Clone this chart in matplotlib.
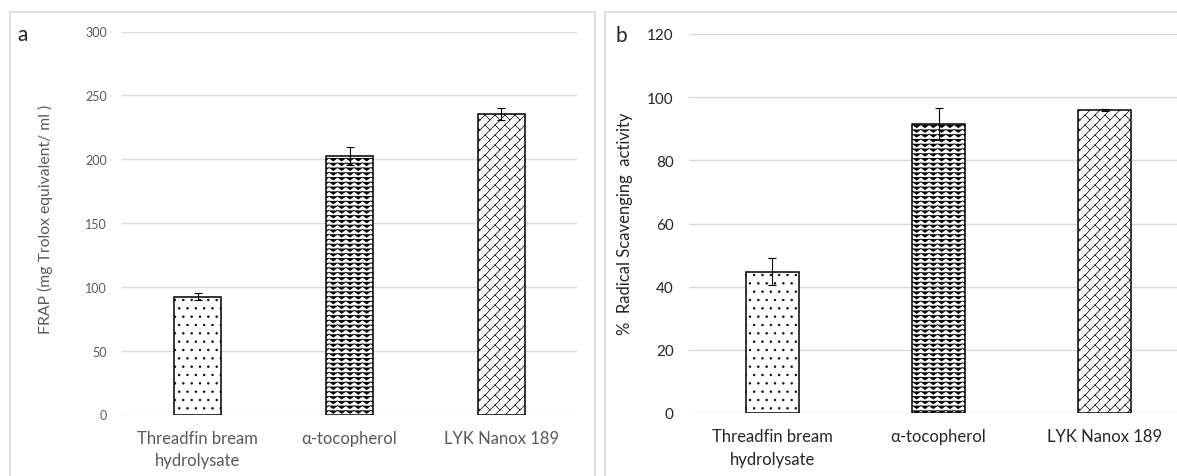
import numpy as np
import matplotlib
matplotlib.use("Agg")
import matplotlib.pyplot as plt
from matplotlib import hatch as mhatch
from matplotlib.patches import Rectangle
from matplotlib.path import Path
import warnings
warnings.filterwarnings("ignore")

# data
samples = ["Threadfin bream\nhydrolysate", "\u03b1-tocopherol", "LYK Nanox 189"]
frap = [92.3, 202.5, 235.3]
frap_err = [3.0, 7.0, 5.0]
dpph = [44.8, 91.5, 95.8]
dpph_err = [4.3, 5.2, 0.3]
frap_ticks = [0, 50, 100, 150, 200, 250, 300]
dpph_ticks = [0, 20, 40, 60, 80, 100, 120]


# extra hatch patterns (zigzag 'z' and diagonal brick 'b'), like the excel fills
class ZigZagHatch(mhatch.HatchPatternBase):
    def __init__(self, hatch, density):
        n = hatch.count('z')
        self.rows = 21 * n
        self.teeth = 12 * n
        self.num_vertices = self.rows * (2 * self.teeth + 3) if n else 0

    def set_vertices_and_codes(self, vertices, codes):
        idx = np.arange(-1, 2 * self.teeth + 2)
        k = len(idx)
        xs = idx / (2 * self.teeth)
        ys = 0.015 * np.where(idx % 2 == 0, -1.0, 1.0)
        for r in range(self.rows):
            y0 = (r + 0.5) / self.rows
            vertices[r * k:(r + 1) * k, 0] = xs
            vertices[r * k:(r + 1) * k, 1] = y0 + ys
            codes[r * k] = Path.MOVETO
            codes[r * k + 1:(r + 1) * k] = Path.LINETO


class BrickHatch(mhatch.HatchPatternBase):
    def __init__(self, hatch, density):
        n = hatch.count('b')
        self.lines = 10 * n
        self.bricks = 10 * n
        if n:
            self.num_vertices = (2 * self.lines + 1) * 2 + 2 * self.lines * (self.bricks + 3) * 2
        else:
            self.num_vertices = 0

    def set_vertices_and_codes(self, vertices, codes):
        N, M = self.lines, self.bricks
        i = 0
        # long lines along "/"
        for k in range(-N, N + 1):
            c = k / N
            vertices[i] = (-0.1, -0.1 + c)
            vertices[i + 1] = (1.1, 1.1 + c)
            codes[i] = Path.MOVETO
            codes[i + 1] = Path.LINETO
            i += 2
        # short joints, staggered from one row to the next
        for k in range(-N, N):
            c = k / N
            for j in range(-1, M + 2):
                u = (j + 0.5 * (k % 2)) * 2.0 / M
                t = (u - c) / 2.0
                vertices[i] = (t, t + c)
                vertices[i + 1] = (t - 0.5 / N, t + c + 0.5 / N)
                codes[i] = Path.MOVETO
                codes[i + 1] = Path.LINETO
                i += 2


mhatch._hatch_types.append(ZigZagHatch)
mhatch._hatch_types.append(BrickHatch)

plt.rcParams['font.family'] = ['Lato', 'DejaVu Sans']
plt.rcParams['hatch.linewidth'] = 0.5

hatches = ['..', 'z', 'b']
grid_col = '#d9d9d9'

fig = plt.figure(figsize=(11.77, 4.77), dpi=100)
W, H = 1177, 477

# panel frames
fig.add_artist(Rectangle((10 / W, -0.1), 585 / W, 1.1 - 13 / H, transform=fig.transFigure,
                         fill=False, ec=grid_col, lw=1.2))
fig.add_artist(Rectangle((605 / W, -0.1), 0.6, 1.1 - 13 / H, transform=fig.transFigure,
                         fill=False, ec=grid_col, lw=1.2))

ax1 = fig.add_axes([122 / W, 1 - 415.5 / H, 455 / W, 383 / H])
ax2 = fig.add_axes([689 / W, 1 - 414 / H, (W - 689) / W, 379 / H])

x = np.arange(len(samples))

def draw(ax, vals, errs, ticks, width, txtcol, tickfs):
    bars = ax.bar(x, vals, width=width, color='white', edgecolor='black', linewidth=1.1, zorder=2)
    for b, h in zip(bars, hatches):
        b.set_hatch(h)
    ax.errorbar(x, vals, yerr=errs, fmt='none', ecolor='black', elinewidth=0.8,
                capsize=3, capthick=0.8, zorder=3)
    ax.set_ylim(ticks[0], ticks[-1])
    ax.set_yticks(ticks)
    ax.set_xticks(x)
    ax.set_xticklabels(samples, fontsize=12, color=txtcol, linespacing=1.5)
    ax.tick_params(axis='y', labelsize=tickfs, labelcolor=txtcol, length=0, pad=11)
    ax.tick_params(axis='x', length=0, pad=11)
    for s in ax.spines.values():
        s.set_visible(False)
    ax.yaxis.grid(True, color=grid_col, lw=1.0)
    ax.set_axisbelow(True)

draw(ax1, frap, frap_err, frap_ticks, 0.31, '#595959', 9)
ax1.set_xlim(-0.5, 2.5)
ax1.set_ylabel("FRAP (mg Trolox equivalent/ ml )", fontsize=11.3, color='#595959')
ax1.yaxis.label.set_va('center')
ax1.yaxis.set_label_coords(-0.169, 0.513)

draw(ax2, dpph, dpph_err, dpph_ticks, 0.32, '#262626', 11)
ax2.set_xlim(-0.5, 2 + (W - 1105) / 166)
ax2.set_ylabel("%  Radical Scavenging  activity", fontsize=12, color='#262626')
ax2.yaxis.label.set_va('center')
ax2.yaxis.set_label_coords(-0.131, 0.501)

fig.text(23 / W, 1 - 35 / H, "a", fontsize=15, ha='center', va='center', color='#262626')
fig.text(621 / W, 1 - 36 / H, "b", fontsize=15, ha='center', va='center', color='#262626')

fig.savefig("out.png", dpi=100)
